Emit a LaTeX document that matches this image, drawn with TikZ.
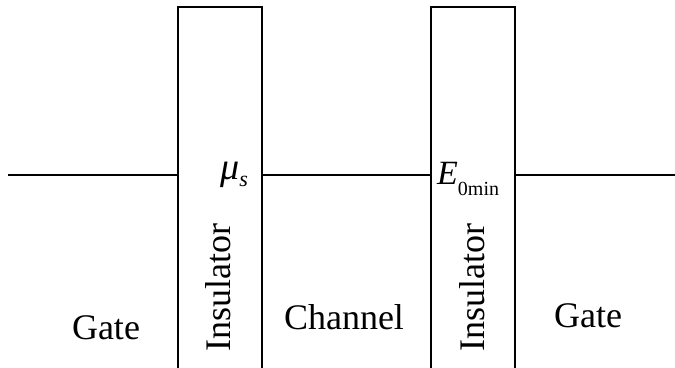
\documentclass[tikz,border=0pt]{standalone}
\usepackage{fontspec}
\setmainfont{Liberation Serif}
\begin{document}
\begin{tikzpicture}[x=1pt,y=-1pt,
  wall/.style={draw=black,line width=2pt},
  lvl/.style={draw=black,line width=1.6pt},
  lbl/.style={inner sep=0pt,anchor=base,font=\fontsize{36}{40}\selectfont},
  ins/.style={inner sep=0pt,anchor=base,rotate=90,font=\fontsize{36}{40}\selectfont}]
\useasboundingbox (0,0) rectangle (675,367);
% insulator walls
\coordinate (a1) at (178,368); \coordinate (a2) at (178,7);
\coordinate (a3) at (262,7);   \coordinate (a4) at (262,368);
\coordinate (b1) at (431,368); \coordinate (b2) at (431,7);
\coordinate (b3) at (515,7);   \coordinate (b4) at (515,368);
\draw[wall] (a1) -- (a2) -- (a3) -- (a4);
\draw[wall] (b1) -- (b2) -- (b3) -- (b4);
% level line
\coordinate (l0) at (8,175);
\coordinate (l1) at (178,175);
\coordinate (l2) at (262,175);
\coordinate (l3) at (431,175);
\coordinate (l4) at (515,175);
\coordinate (l5) at (675,175);
\draw[lvl] (l0) -- (l1);
\draw[lvl] (l2) -- (l3);
\draw[lvl] (l4) -- (l5);
% labels
\node[lbl] (gate1) at (106,339) {Gate};
\node[lbl] (chan) at (344,329) {Channel};
\node[lbl] (gate2) at (588,327) {Gate};
\node[ins] (ins1) at (230,287.5) {Insulator};
\node[ins] (ins2) at (484,287.5) {Insulator};
\node[inner sep=0pt,anchor=base west] (mu) at (220,179)
  {\fontsize{38}{40}\selectfont\textit{μ}\raisebox{-7pt}{\fontsize{22}{24}\selectfont\textit{s}}};
\node[inner sep=0pt,anchor=base west] (emin) at (437,184)
  {\fontsize{34}{36}\selectfont\textit{E}\raisebox{-11pt}{\fontsize{20}{22}\selectfont 0min}};
\end{tikzpicture}
\end{document}
